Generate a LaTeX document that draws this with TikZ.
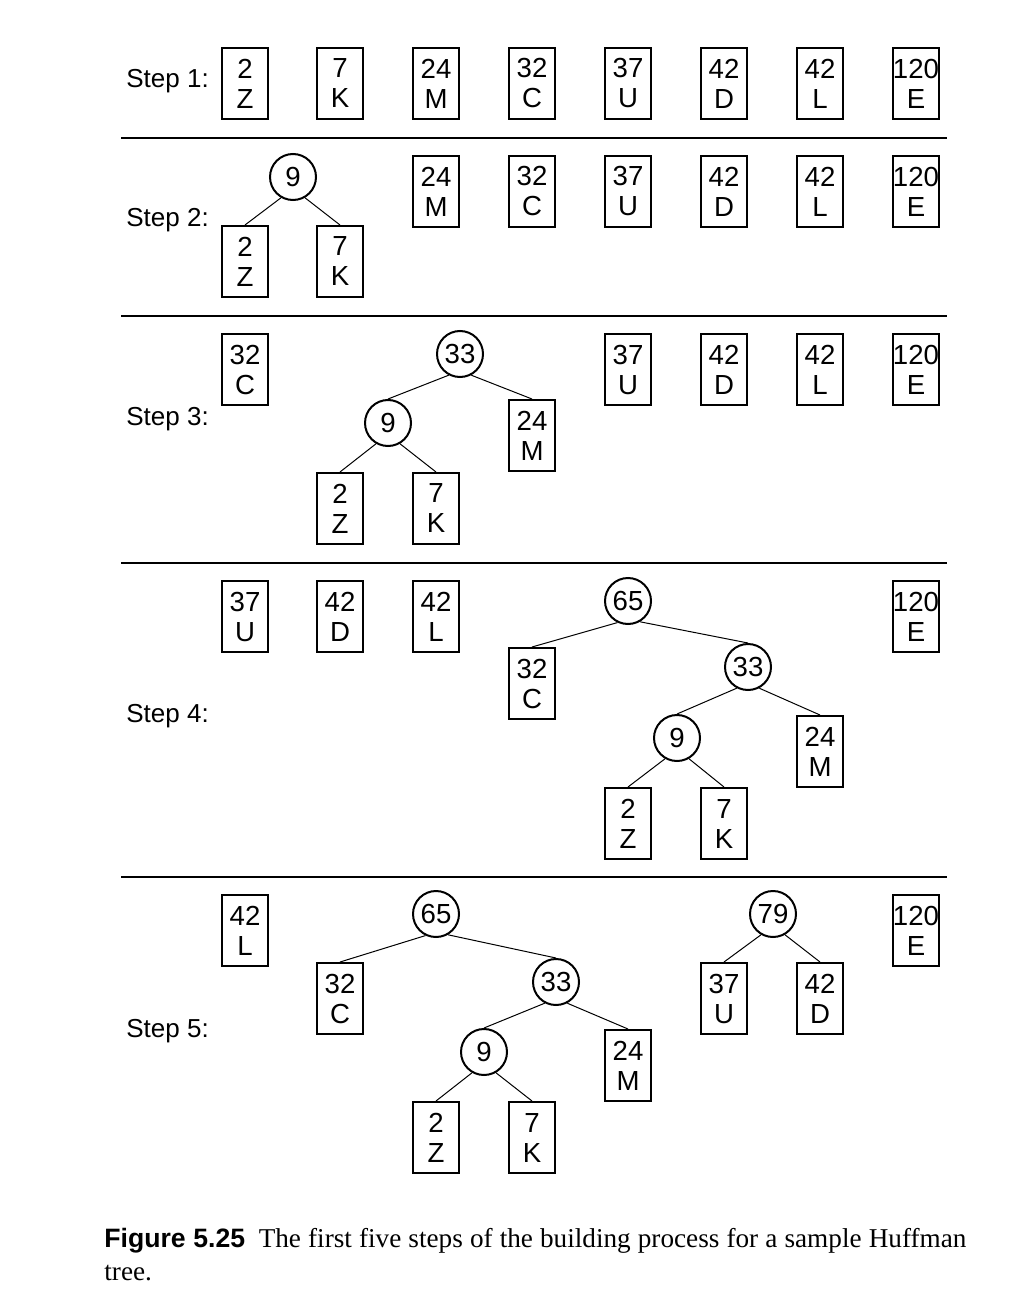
\documentclass[tikz,border=0pt]{standalone}
\usepackage{fontspec}
\setmainfont{Liberation Serif}
\setsansfont{Liberation Sans}
\begin{document}
\begin{tikzpicture}[x=.5pt,y=-.5pt,
	leaf/.style={draw,line width=1pt,minimum width=23pt,minimum height=35.5pt,inner sep=0pt,align=center,font=\sffamily\fontsize{13.8}{15}\selectfont},
	inode/.style={draw,circle,line width=1pt,minimum size=23pt,inner sep=0pt,font=\sffamily\fontsize{13.8}{15}\selectfont},
	steplbl/.style={anchor=base west,inner sep=0pt,font=\sffamily\fontsize{13}{13}\selectfont},
	edge/.style={line width=.5pt},
	rule/.style={line width=.6pt}]
					\useasboundingbox (0,0) rectangle (1024,1316);
					% step 1
					\node[steplbl] (lbla) at (126,88) {Step 1:};
					\node[leaf] (a2) at (245,83.5) {2\\Z};
					\node[leaf] (a7) at (340,83.5) {7\\K};
					\node[leaf] (a24) at (436,83.5) {24\\M};
					\node[leaf] (a32) at (532,83.5) {32\\C};
					\node[leaf] (a37) at (628,83.5) {37\\U};
					\node[leaf] (a42d) at (724,83.5) {42\\D};
					\node[leaf] (a42l) at (820,83.5) {42\\L};
					\node[leaf] (a120) at (916,83.5) {120\\E};
					\coordinate (ra1) at (121,138);
					\coordinate (ra2) at (947,138);
					\draw[rule] (ra1) -- (ra2);
					% step 2
					\node[steplbl] (lblb) at (126,227) {Step 2:};
					\node[inode] (b9) at (293,177) {9};
					\node[leaf] (b2) at (245,261.5) {2\\Z};
					\node[leaf] (b7) at (340,261.5) {7\\K};
					\node[leaf] (b24) at (436,191.5) {24\\M};
					\node[leaf] (b32) at (532,191.5) {32\\C};
					\node[leaf] (b37) at (628,191.5) {37\\U};
					\node[leaf] (b42d) at (724,191.5) {42\\D};
					\node[leaf] (b42l) at (820,191.5) {42\\L};
					\node[leaf] (b120) at (916,191.5) {120\\E};
					\draw[edge] (b9.-120) -- (b2.north);
					\draw[edge] (b9.-60) -- (b7.north);
					\coordinate (rb1) at (121,316);
					\coordinate (rb2) at (947,316);
					\draw[rule] (rb1) -- (rb2);
					% step 3
					\node[steplbl] (lblc) at (126,425) {Step 3:};
					\node[leaf] (c32) at (245,369.5) {32\\C};
					\node[inode] (c33) at (460,354) {33};
					\node[inode] (c9) at (388,423) {9};
					\node[leaf] (c24) at (532,435.5) {24\\M};
					\node[leaf] (c2) at (340,508.5) {2\\Z};
					\node[leaf] (c7) at (436,508.5) {7\\K};
					\node[leaf] (c37) at (628,369.5) {37\\U};
					\node[leaf] (c42d) at (724,369.5) {42\\D};
					\node[leaf] (c42l) at (820,369.5) {42\\L};
					\node[leaf] (c120) at (916,369.5) {120\\E};
					\draw[edge] (c33.-118) -- (c9.north);
					\draw[edge] (c33.-62) -- (c24.north);
					\draw[edge] (c9.-120) -- (c2.north);
					\draw[edge] (c9.-60) -- (c7.north);
					\coordinate (rc1) at (121,563);
					\coordinate (rc2) at (947,563);
					\draw[rule] (rc1) -- (rc2);
					% step 4
					\node[steplbl] (lbld) at (126,722) {Step 4:};
					\node[leaf] (d37) at (245,616.5) {37\\U};
					\node[leaf] (d42d) at (340,616.5) {42\\D};
					\node[leaf] (d42l) at (436,616.5) {42\\L};
					\node[inode] (d65) at (628,601) {65};
					\node[leaf] (d32) at (532,683.5) {32\\C};
					\node[inode] (d33) at (748,667) {33};
					\node[inode] (d9) at (677,738) {9};
					\node[leaf] (d24) at (820,751.5) {24\\M};
					\node[leaf] (d2) at (628,823.5) {2\\Z};
					\node[leaf] (d7) at (724,823.5) {7\\K};
					\node[leaf] (d120) at (916,616.5) {120\\E};
					\draw[edge] (d65.-116) -- (d32.north);
					\draw[edge] (d65.-60) -- (d33.north);
					\draw[edge] (d33.-118) -- (d9.north);
					\draw[edge] (d33.-62) -- (d24.north);
					\draw[edge] (d9.-120) -- (d2.north);
					\draw[edge] (d9.-60) -- (d7.north);
					\coordinate (rd1) at (121,877);
					\coordinate (rd2) at (947,877);
					\draw[rule] (rd1) -- (rd2);
					% step 5
					\node[steplbl] (lble) at (126,1037) {Step 5:};
					\node[leaf] (e42l) at (245,930.5) {42\\L};
					\node[inode] (e65) at (436,914) {65};
					\node[leaf] (e32) at (340,998.5) {32\\C};
					\node[inode] (e33) at (556,982) {33};
					\node[inode] (e9) at (484,1052) {9};
					\node[leaf] (e24) at (628,1065.5) {24\\M};
					\node[leaf] (e2) at (436,1137.5) {2\\Z};
					\node[leaf] (e7) at (532,1137.5) {7\\K};
					\node[inode] (e79) at (773,914) {79};
					\node[leaf] (e37) at (724,998.5) {37\\U};
					\node[leaf] (e42d) at (820,998.5) {42\\D};
					\node[leaf] (e120) at (916,930.5) {120\\E};
					\draw[edge] (e65.-116) -- (e32.north);
					\draw[edge] (e65.-60) -- (e33.north);
					\draw[edge] (e33.-118) -- (e9.north);
					\draw[edge] (e33.-62) -- (e24.north);
					\draw[edge] (e9.-120) -- (e2.north);
					\draw[edge] (e9.-60) -- (e7.north);
					\draw[edge] (e79.-120) -- (e37.north);
					\draw[edge] (e79.-60) -- (e42d.north);
					% caption
					\node[anchor=base west,inner sep=0pt,text width=431pt,align=justify,font=\fontsize{13.6}{16.5}\selectfont] (cap) at (104,1247)
						{{\sffamily\bfseries\fontsize{13.3}{16.5}\selectfont Figure 5.25}\hspace{.5em}The first five steps of the building process for a sample Huffman\linebreak tree.};
				\end{tikzpicture}
\end{document}
